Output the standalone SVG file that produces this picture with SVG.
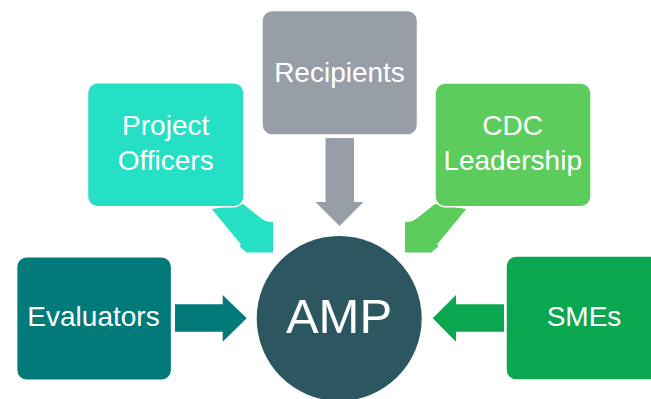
<svg xmlns="http://www.w3.org/2000/svg" width="651" height="399" viewBox="0 0 651 399">
<style>
.box{stroke:#ffffff;stroke-width:1.5}
.lbl{font-family:"Liberation Sans",Arial,sans-serif;font-size:28px;fill:#ffffff;text-anchor:middle}
.big{font-family:"Liberation Sans",Arial,sans-serif;font-size:49px;fill:#ffffff;text-anchor:middle}
</style>
<rect width="651" height="399" fill="#ffffff"/>
<g id="connectors">
<polygon points="325.5,138 354,138 354,202 363.5,202 339.5,226 315.5,202 325.5,202" fill="#979ea8"/>
<polygon points="211.7,209 243,204 262,219 266.7,221.5 273,222 273,252.5 246.7,252.5 239.5,246.5 241,244.5" fill="#26e0c5"/>
<polygon points="466.3,209 435,204 416,219 411.3,221.5 405,222 405,252.5 431.3,252.5 438.5,246.5 437,244.5" fill="#5ccd5c"/>
<polygon points="175,304.3 222.7,304.3 222.7,295 246.7,318.3 222.7,341.7 222.7,331.7 175,331.7" fill="#027a7a"/>
<polygon points="504,304.3 456,304.3 456,295 432.7,318.3 456,341.7 456,331.7 504,331.7" fill="#0ba650"/>
</g>
<g id="recipients">
<rect class="box" x="262" y="10.5" width="155.5" height="124.5" rx="10" fill="#979ea8"/>
<text class="lbl" x="339.5" y="81.7">Recipients</text>
</g>
<g id="project-officers">
<rect class="box" x="87.5" y="82.7" width="156.5" height="124" rx="10" fill="#26e0c5"/>
<text class="lbl" x="165.7" y="135">Project</text>
<text class="lbl" x="165.7" y="170">Officers</text>
</g>
<g id="cdc-leadership">
<rect class="box" x="435" y="83" width="156" height="123.7" rx="10" fill="#5ccd5c"/>
<text class="lbl" x="512.7" y="135">CDC</text>
<text class="lbl" x="512.7" y="170">Leadership</text>
</g>
<g id="evaluators">
<rect class="box" x="16.6" y="256.7" width="155" height="123.5" rx="10" fill="#027a7a"/>
<text class="lbl" x="93.5" y="326">Evaluators</text>
</g>
<g id="smes">
<rect class="box" x="506" y="256" width="160" height="124" rx="10" fill="#0ba650"/>
<text class="lbl" x="584" y="326">SMEs</text>
</g>
<g id="amp">
<circle cx="339.2" cy="318.5" r="82.5" fill="#2c5660"/>
<text class="big" x="339" y="333.3">AMP</text>
</g>
</svg>
